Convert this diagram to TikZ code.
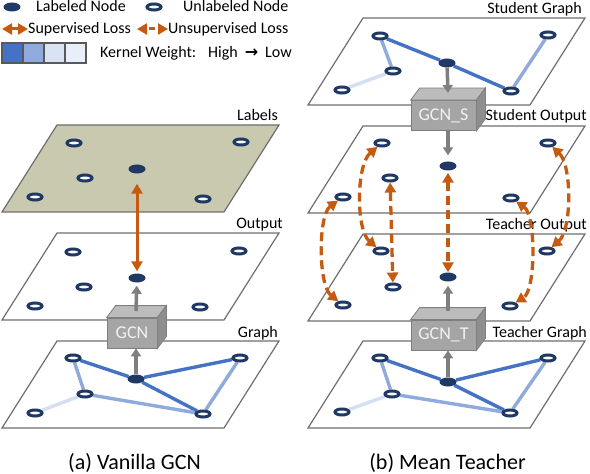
\documentclass[tikz,border=0pt]{standalone}
\usepackage{fontspec}
\setmainfont{Carlito}
\newfontfamily\symfont{DejaVu Sans}
\usetikzlibrary{shapes.geometric,arrows.meta,calc}
\pgfdeclarelayer{back}
\pgfdeclarelayer{mid}
\pgfsetlayers{back,mid,main}
\definecolor{navy}{HTML}{1F3864}
\definecolor{edgeA}{HTML}{4472C4}
\definecolor{edgeB}{HTML}{8FAADC}
\definecolor{edgeC}{HTML}{D5DFF2}
\definecolor{sqC}{HTML}{DAE3F3}
\definecolor{sqD}{HTML}{E9EFF8}
\definecolor{lossc}{HTML}{C55A11}
\definecolor{planec}{HTML}{6E6E6E}
\definecolor{labfill}{HTML}{C9C9B0}
\definecolor{arrg}{HTML}{7F7F7F}
\definecolor{boxf}{HTML}{A5A5A5}
\definecolor{boxt}{HTML}{BCBCBC}
\definecolor{boxs}{HTML}{8E8E8E}
\definecolor{sqborder}{HTML}{595959}
\begin{document}
\begin{tikzpicture}[x=1bp,y=-1bp,
  font=\fontsize{16bp}{19bp}\selectfont,
  unl/.style={ellipse,draw=navy,line width=3bp,fill=white,minimum width=14bp,minimum height=6bp,inner sep=0pt},
  lab/.style={ellipse,fill=navy,minimum width=17bp,minimum height=9bp,inner sep=0pt},
  plane/.style={draw=planec,line width=1.2bp},
  eA/.style={edgeA,line width=3.4bp},
  eB/.style={edgeB,line width=3.4bp},
  eC/.style={edgeC,line width=3.4bp},
  garrow/.style={arrg,line width=3.5bp,-{Triangle[width=10bp,length=8bp]}},
  sup/.style={lossc,line width=3bp,{Triangle[width=11bp,length=10bp]}-{Triangle[width=11bp,length=10bp]}},
  unsup/.style={sup,line width=3.3bp,dash pattern=on 9bp off 5bp},
  boxfront/.style={draw=arrg,fill=boxf,minimum height=30bp,text=white!95!black,inner sep=0pt,line width=0.8bp,font=\fontsize{18bp}{20bp}\selectfont},
  boxtop/.style={draw=arrg,fill=boxt,line width=0.8bp},
  boxside/.style={draw=arrg,fill=boxs,line width=0.8bp},
  kw/.style={minimum width=21bp,minimum height=20bp,draw=sqborder,line width=1.2bp,inner sep=0pt},
  txt/.style={inner sep=0pt}
]
\useasboundingbox (0,0) rectangle (590,474);

% ---------- planes ----------
\begin{pgfonlayer}{back}
\draw[plane,fill=labfill] (57,125) -- (279,125) -- (224,212) -- (2,212) -- cycle;
\draw[plane,fill=white] (57,233) -- (279,233) -- (224,320) -- (2,320) -- cycle;
\draw[plane,fill=white] (57,341) -- (279,341) -- (224,428) -- (2,428) -- cycle;
\draw[plane,fill=white] (363,18) -- (585,18) -- (530,105) -- (308,105) -- cycle;
\draw[plane,fill=white] (363,126) -- (585,126) -- (530,213) -- (308,213) -- cycle;
\draw[plane,fill=white] (363,234) -- (585,234) -- (530,321) -- (308,321) -- cycle;
\draw[plane,fill=white] (363,341) -- (585,341) -- (530,428) -- (308,428) -- cycle;
\end{pgfonlayer}

% plane labels
\node[txt,anchor=base east] (tlabels) at (278,121) {Labels};
\node[txt,anchor=base east] (toutput) at (283,229) {Output};
\node[txt,anchor=base east] (tgraph) at (278,337) {Graph};
\node[txt,anchor=base east] (tsg) at (582,14) {Student Graph};
\node[txt,anchor=base east] (tso) at (587,121) {Student Output};
\node[txt,anchor=base east] (tto) at (587,230) {Teacher Output};
\node[txt,anchor=base east] (ttg) at (587,337) {Teacher Graph};

% ---------- legend ----------
\node[lab] (lgl) at (12,7) {};
\node[txt,anchor=base west] (lgltxt) at (36,12) {Labeled Node};
\node[unl] (lgu) at (154,7) {};
\node[txt,anchor=base west] (lgutxt) at (183,12) {Unlabeled Node};
\coordinate (ls1) at (2,29);
\coordinate (ls2) at (28,29);
\draw[sup] (ls1) -- (ls2);
\node[txt,anchor=base west] (lstxt) at (28,34) {Supervised Loss};
\coordinate (lu1) at (137,29);
\coordinate (lu2) at (168,29);
\draw[sup,dash pattern=on 6bp off 4bp,dash phase=7bp] (lu1) -- (lu2);
\node[txt,anchor=base west] (lutxt) at (168,34) {Unsupervised Loss};
\node[kw,fill=edgeA] (k1) at (12.5,53) {};
\node[kw,fill=edgeB] (k2) at (33.5,53) {};
\node[kw,fill=sqC] (k3) at (54.5,53) {};
\node[kw,fill=sqD] (k4) at (75.5,53) {};
\node[txt,anchor=base west] (kwt) at (100,58) {Kernel Weight:};
\node[txt,anchor=base west] (kwh) at (208,58) {High};
\node[txt] (kwa) at (251.5,53) {\symfont\bfseries →};
\node[txt,anchor=base west] (kwl) at (265,58) {Low};

% ---------- left: labels plane ----------
\node[unl] (l1) at (74,143) {};
\node[unl] (l2) at (241,142) {};
\node[lab] (l3) at (137,169) {};
\node[unl] (l4) at (85,178) {};
\node[unl] (l5) at (35,197) {};
\node[unl] (l6) at (203,199) {};
% output plane
\node[unl] (o1) at (73,252) {};
\node[unl] (o2) at (239,251) {};
\node[lab] (o3) at (137,278) {};
\node[unl] (o4) at (84,287) {};
\node[unl] (o5) at (35,306) {};
\node[unl] (o6) at (200,307) {};
% graph plane
\node[unl] (g1) at (73,358) {};
\node[unl] (g2) at (240,358) {};
\node[lab] (g3) at (136,379) {};
\node[unl] (g4) at (85,394) {};
\node[unl] (g5) at (35,413) {};
\node[unl] (g6) at (203,414) {};

% ---------- right ----------
\node[unl] (s1) at (380,36) {};
\node[unl] (s2) at (548,35) {};
\node[lab] (s3) at (447,63) {};
\node[unl] (s4) at (393,71) {};
\node[unl] (s5) at (342,90) {};
\node[unl] (s6) at (511,91) {};

\node[unl] (p1) at (382,143) {};
\node[unl] (p2) at (548,143) {};
\node[lab] (p3) at (448,166) {};
\node[unl] (p4) at (390,178) {};
\node[unl] (p5) at (343,197) {};
\node[unl] (p6) at (511,198) {};

\node[unl] (q1) at (381,251) {};
\node[unl] (q2) at (547,251) {};
\node[lab] (q3) at (448,277) {};
\node[unl] (q4) at (393,287) {};
\node[unl] (q5) at (343,305) {};
\node[unl] (q6) at (510,306) {};

\node[unl] (t1) at (380,358) {};
\node[unl] (t2) at (548,358) {};
\node[lab] (t3) at (448,382) {};
\node[unl] (t4) at (392,394) {};
\node[unl] (t5) at (342,412) {};
\node[unl] (t6) at (510,413) {};

% ---------- graph edges ----------
\begin{pgfonlayer}{mid}
\draw[eA] (g1) -- (g3);
\draw[eA] (g3) -- (g2);
\draw[eA] (g3) -- (g6);
\draw[eB] (g1) -- (g4);
\draw[eB] (g4) -- (g6);
\draw[eB] (g2) -- (g6);
\draw[eC] (g4) -- (g5);

\draw[eA] (s1) -- (s3);
\draw[eA] (s3) -- (s6);
\draw[eB] (s1) -- (s4);
\draw[eB] (s2) -- (s6);
\draw[eC] (s4) -- (s5);

\draw[eA] (t1) -- (t3);
\draw[eA] (t3) -- (t2);
\draw[eA] (t3) -- (t6);
\draw[eB] (t1) -- (t4);
\draw[eB] (t4) -- (t6);
\draw[eB] (t2) -- (t6);
\draw[eC] (t4) -- (t5);
\end{pgfonlayer}

% ---------- boxes ----------
\node[boxfront,minimum width=50bp] (gcn) at (132,333) {GCN};
\node[boxfront,minimum width=65bp] (gcns) at (443.5,115.5) {GCN\_S};
\node[boxfront,minimum width=65bp] (gcnt) at (443.5,335) {GCN\_T};
\foreach \b in {gcn,gcns,gcnt}{
  \draw[boxtop] (\b.north west) -- ++(9,-12) -- ($(\b.north east)+(9,-12)$) -- (\b.north east) -- cycle;
  \draw[boxside] (\b.north east) -- ++(9,-12) -- ($(\b.south east)+(9,-12)$) -- (\b.south east) -- cycle;
}

% ---------- gray arrows ----------
\coordinate (gcntop) at (136,311);
\coordinate (gcnstop) at (448,93);
\coordinate (gcnttop) at (448,311);
\draw[garrow] (g3) -- (g3 |- gcn.south);
\draw[garrow,shorten >=3bp] (gcntop) -- (o3);
\draw[garrow] (s3) -- (gcnstop);
\draw[garrow,shorten >=6bp] (gcns.south -| p3) -- (p3);
\draw[garrow] (t3) -- (t3 |- gcnt.south);
\draw[garrow,shorten >=4bp] (gcnttop) -- (q3);

% ---------- losses ----------
\draw[sup,shorten <=10bp,shorten >=2bp] (l3) -- (o3);

\draw[unsup] (p4) -- (q4);
\draw[unsup,shorten <=2bp] (p3) -- (q3);
\draw[unsup] (p1) .. controls (356,165) and (356,230) .. (q1);
\draw[unsup] (p5) .. controls (318,215) and (318,285) .. (q5);
\draw[unsup] (p2) .. controls (572,165) and (572,230) .. (q2);
\draw[unsup] (p6) .. controls (536,215) and (536,290) .. (q6);

% ---------- captions ----------
\node[txt,anchor=base,font=\fontsize{22bp}{26bp}\selectfont] (capa) at (134.5,469) {(a) Vanilla GCN};
\node[txt,anchor=base,font=\fontsize{22bp}{26bp}\selectfont] (capb) at (447.5,469) {(b) Mean Teacher};
\end{tikzpicture}
\end{document}
